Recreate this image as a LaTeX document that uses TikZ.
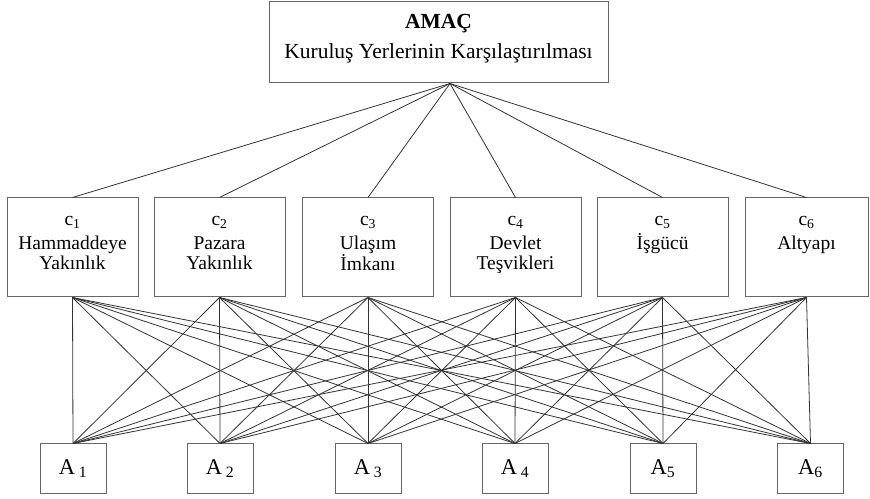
\documentclass[tikz,border=0pt]{standalone}
\usepackage{fontspec}
\setmainfont{Liberation Serif}

\begin{document}
\begin{tikzpicture}[x=1pt, y=1pt,
    kutu/.style={draw=black!60, line width=1pt, inner sep=0pt},
    kriter/.style={kutu, minimum width=131pt, minimum height=99pt},
    alternatif/.style={kutu, minimum width=66pt, minimum height=49pt, font=\fontsize{22.5}{24}\selectfont},
    yazi/.style={align=center, inner sep=0pt, anchor=north, font=\fontsize{19.5}{20}\selectfont},
    cizgi/.style={black!80, line width=0.8pt}]
    \useasboundingbox (0,0) rectangle (870,498);

    % Amaç kutusu
    \node[kutu, minimum width=339pt, minimum height=81pt] (amac) at (438.5,455.5) {};
    \node[align=center, inner sep=0pt, anchor=north, font=\fontsize{21.5}{30}\selectfont] (amacyazi) at (438.5,484)
        {\textbf{AMAÇ}\\Kuruluş Yerlerinin Karşılaştırılması};

    % Kriterler
    \node[kriter] (c1) at (72.5,250.5) {};
    \node[kriter] (c2) at (219.5,250.5) {};
    \node[kriter] (c3) at (368,250.5) {};
    \node[kriter] (c4) at (515.5,250.5) {};
    \node[kriter] (c5) at (662.5,250.5) {};
    \node[kriter, minimum width=123pt] (c6) at (806.5,250.5) {};

    \node[yazi] (k1) at (72.5,282) {c\textsubscript{1}\\[4pt]Hammaddeye\\Yakınlık};
    \node[yazi] (k2) at (219.5,282) {c\textsubscript{2}\\[4pt]Pazara\\Yakınlık};
    \node[yazi] (k3) at (368,282) {c\textsubscript{3}\\[4pt]Ulaşım\\İmkanı};
    \node[yazi] (k4) at (515.5,282) {c\textsubscript{4}\\[4pt]Devlet\\Teşvikleri};
    \node[yazi] (k5) at (662.5,282) {c\textsubscript{5}\\[4pt]İşgücü};
    \node[yazi] (k6) at (806.5,282) {c\textsubscript{6}\\[4pt]Altyapı};

    % Alternatifler
    \node[alternatif] (a1) at (73,29.5) {A\,\textsubscript{1}};
    \node[alternatif] (a2) at (220,29.5) {A\,\textsubscript{2}};
    \node[alternatif] (a3) at (368,29.5) {A\,\textsubscript{3}};
    \node[alternatif] (a4) at (515,29.5) {A\,\textsubscript{4}};
    \node[alternatif] (a5) at (663,29.5) {A\textsubscript{5}};
    \node[alternatif] (a6) at (810.5,29.5) {A\textsubscript{6}};

    % Bağlantılar
    \foreach \i in {1,...,6}
        \draw[cizgi] ([xshift=11.5pt]amac.south) -- (c\i.north);
    \foreach \i in {1,...,6}
        \foreach \j in {1,...,6}
            \draw[cizgi] (c\i.south) -- (a\j.north);
\end{tikzpicture}
\end{document}
